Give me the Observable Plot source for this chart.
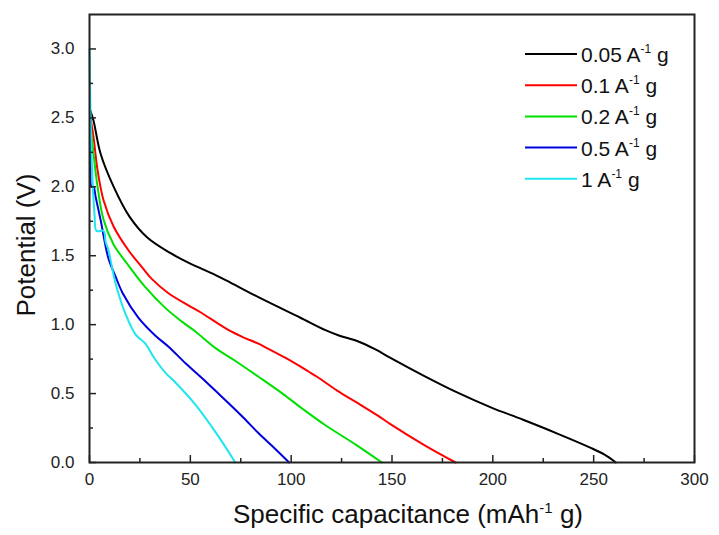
<!DOCTYPE html>
<html>
<head>
<meta charset="utf-8">
<script src="https://cdn.jsdelivr.net/npm/d3@7"></script>
<script src="https://cdn.jsdelivr.net/npm/@observablehq/plot@0.6"></script>
<style>
  html, body { margin: 0; padding: 0; background: #fff; }
  #chart { width: 719px; height: 535px; }
</style>
</head>
<body>
<div id="chart"></div>
<script>
// ---- data ----
const rates = ["0.05", "0.1", "0.2", "0.5", "1"];
const colors = ["#000000", "#ff0000", "#00e000", "#0000dd", "#1ee6f0"];

const cap005 = [0.5, 2, 5.5, 12, 20, 28.8, 40, 49, 55, 62.5, 68, 85, 104.6, 117, 124, 133, 141.8, 149, 165.6, 182, 199, 215, 232, 248, 255, 261];
const pot005 = [2.55, 2.48, 2.24, 2.0, 1.78, 1.63, 1.52, 1.45, 1.41, 1.36, 1.32, 1.19, 1.05, 0.96, 0.92, 0.88, 0.82, 0.76, 0.63, 0.51, 0.40, 0.31, 0.21, 0.11, 0.06, 0];

const cap01 = [0.5, 2, 4, 7, 12, 19.3, 27, 31, 39, 49, 55, 62.5, 69, 76, 84, 88, 97, 103, 108.6, 113, 123, 132, 143, 149, 165.6, 181.5];
const pot01 = [2.5, 2.36, 2.12, 1.90, 1.71, 1.54, 1.40, 1.33, 1.23, 1.14, 1.09, 1.02, 0.96, 0.91, 0.86, 0.83, 0.76, 0.71, 0.66, 0.62, 0.52, 0.44, 0.34, 0.28, 0.13, 0];

const cap02 = [0.5, 2, 4, 7, 12, 18.8, 27.8, 37.7, 46, 52.5, 62.5, 72, 84, 95.7, 105.6, 117, 132, 145];
const pot02 = [2.45, 2.24, 2.0, 1.76, 1.58, 1.44, 1.27, 1.12, 1.02, 0.95, 0.83, 0.74, 0.62, 0.50, 0.39, 0.27, 0.13, 0];

const cap05 = [0.3, 0.8, 1.0, 2.0, 3, 5.5, 9.4, 12.9, 16.4, 24.3, 32.7, 39.2, 47.6, 56, 62.5, 69, 76, 84, 92, 99];
const pot05 = [2.45, 2.27, 2.0, 2.0, 1.93, 1.76, 1.48, 1.35, 1.23, 1.05, 0.92, 0.84, 0.72, 0.61, 0.52, 0.43, 0.33, 0.21, 0.10, 0];

const cap1 = [0, 0.3, 0.8, 1.5, 2.5, 3.5, 7, 8, 9.4, 12.9, 17.8, 22.8, 27.8, 32, 37.7, 42.6, 52.5, 62.5, 72.3];
const pot1 = [3.0, 2.7, 2.35, 2.05, 1.8, 1.68, 1.68, 1.6, 1.54, 1.30, 1.08, 0.93, 0.86, 0.76, 0.65, 0.58, 0.42, 0.22, 0];

const xMajor = [0, 50, 100, 150, 200, 250, 300];
const xMinor = [25, 75, 125, 175, 225, 275];
const yMajor = [0, 0.5, 1.0, 1.5, 2.0, 2.5, 3.0];
const yMinor = [0.25, 0.75, 1.25, 1.75, 2.25, 2.75];

// ---- build table ----
const caps = [cap005, cap01, cap02, cap05, cap1];
const pots = [pot005, pot01, pot02, pot05, pot1];
const rows = [];
rates.forEach((r, i) => caps[i].forEach((c, j) => rows.push({rate: r, cap: c, pot: pots[i][j]})));

const font = "'Liberation Sans', Arial, sans-serif";

const chart = Plot.plot({
  width: 719,
  height: 535,
  marginLeft: 89,
  marginRight: 25,
  marginTop: 14,
  marginBottom: 73,
  style: {fontFamily: font, fontSize: "17px", color: "#222", background: "#fff"},
  x: {domain: [0, 300]},
  y: {domain: [0, 3.25]},
  color: {domain: rates, range: colors},
  marks: [
    Plot.line(rows, {x: "cap", y: "pot", z: "rate", stroke: "rate", strokeWidth: 2, curve: "catmull-rom"}),
    Plot.axisX({ticks: xMajor, tickSize: 0, tickPadding: 10, label: null, tickFormat: d3.format("d"), fill: "#222"}),
    Plot.axisX({ticks: xMajor, tickSize: 7, dy: -7, tickFormat: () => "", label: null, strokeWidth: 1.5}),
    Plot.axisX({ticks: xMinor, tickSize: 4, dy: -4, tickFormat: () => "", label: null, strokeWidth: 1.5}),
    Plot.axisY({ticks: yMajor, tickSize: 0, tickPadding: 15, label: null, tickFormat: d3.format(".1f"), fill: "#222"}),
    Plot.axisY({ticks: yMajor, tickSize: 7, dx: 7, tickFormat: () => "", label: null, strokeWidth: 1.5}),
    Plot.axisY({ticks: yMinor, tickSize: 4, dx: 4, tickFormat: () => "", label: null, strokeWidth: 1.5}),
    Plot.frame({stroke: "#222", strokeWidth: 2})
  ]
});

document.getElementById("chart").appendChild(chart);

// ---- titles and legend (text with superscripts) ----
const svg = d3.select(chart);
svg.style("overflow", "visible");

svg.append("text")
  .attr("transform", "translate(35,245) rotate(-90)")
  .attr("text-anchor", "middle")
  .attr("font-family", font).attr("font-size", 26).attr("fill", "#111")
  .text("Potential (V)");

const xt = svg.append("text")
  .attr("x", 408).attr("y", 523)
  .attr("text-anchor", "middle")
  .attr("font-family", font).attr("font-size", 26).attr("fill", "#111");
xt.append("tspan").text("Specific capacitance (mAh");
xt.append("tspan").attr("font-size", 15).attr("dy", -10).text("-1");
xt.append("tspan").attr("dy", 10).text(" g)");

const lg = svg.append("g");
rates.forEach((r, i) => {
  const yy = 54 + i * 31.2;
  lg.append("line").attr("x1", 525).attr("x2", 577).attr("y1", yy).attr("y2", yy)
    .attr("stroke", colors[i]).attr("stroke-width", 2);
  const t = lg.append("text").attr("x", 581).attr("y", yy + 8)
    .attr("text-anchor", "start")
    .attr("font-family", font).attr("font-size", 21).attr("fill", "#111");
  t.append("tspan").text(r + " A");
  t.append("tspan").attr("font-size", 12).attr("dy", -9).text("-1");
  t.append("tspan").attr("dy", 9).text(" g");
});
</script>
</body>
</html>
